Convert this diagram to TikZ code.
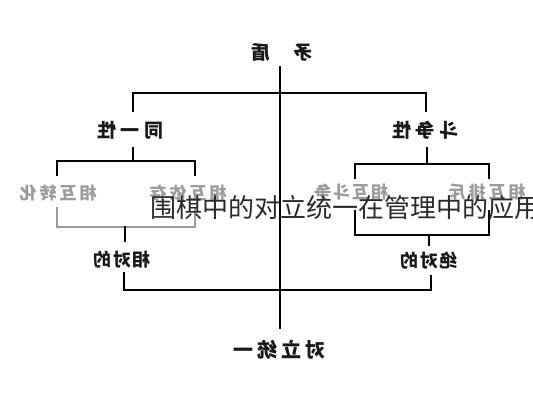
\documentclass[tikz,border=0pt]{standalone}
\usepackage{graphicx}
\usepackage{fontspec}
\usepackage{tikz}
\usetikzlibrary{positioning}
\newfontfamily\cjk{Noto Sans CJK SC}
\definecolor{lightgray}{HTML}{9C9C9C}
\definecolor{titlegray}{HTML}{2A2A2A}
\tikzset{
  bar/.style={line width=1.8pt, color=black, line cap=rect},
  graybar/.style={line width=1.8pt, color=lightgray, line cap=rect},
  lbl/.style={inner sep=0pt, font=\cjk\bfseries\fontsize{19}{19}\selectfont, text=black!90},
  smalllbl/.style={inner sep=0pt, font=\cjk\bfseries\fontsize{18}{18}\selectfont, text=black!90},
  graylbl/.style={inner sep=0pt, font=\cjk\bfseries\fontsize{17}{17}\selectfont, text=lightgray}
}
\newcommand{\mirror}[1]{\reflectbox{#1}}
\begin{document}
\begin{tikzpicture}[x=1pt,y=-1pt, line join=miter]
    \useasboundingbox (0,0) rectangle (533,400);
    % labels (mirrored)
    \node[lbl] (maodun) at (282,52) {\mirror{矛\hspace{23pt}盾}};
    \node[lbl] (tongyi) at (130,130) {\mirror{同\hspace{4.5pt}一\hspace{4.5pt}性}};
    \node[lbl] (douzheng) at (425,130) {\mirror{斗\hspace{4.5pt}争\hspace{4.5pt}性}};
    \node[graylbl] (zhuanhua) at (58,193) {\mirror{相\hspace{3pt}互\hspace{3pt}转\hspace{3pt}化}};
    \node[graylbl] (yicun) at (188,193) {\mirror{相\hspace{3pt}互\hspace{3pt}依\hspace{3pt}存}};
    \node[graylbl] (huxiang) at (351,192) {\mirror{相\hspace{2pt}互\hspace{2pt}斗\hspace{2pt}争}};
    \node[graylbl] (paichi) at (487,192) {\mirror{相\hspace{3pt}互\hspace{3pt}排\hspace{3pt}斥}};
    \node[smalllbl] (xiangdui) at (122,260) {\mirror{相\hspace{1.5pt}对\hspace{1.5pt}的}};
    \node[smalllbl] (juedui) at (429,261) {\mirror{绝\hspace{1.5pt}对\hspace{1.5pt}的}};
    \node[lbl, font=\cjk\bfseries\fontsize{20}{20}\selectfont] (duili) at (279,350) {\mirror{对\hspace{4pt}立\hspace{4pt}统\hspace{4pt}一}};
    % junctions
    \coordinate (top) at (280,67);
    \coordinate (bot) at (280,328);
    % central axis
    \draw[bar] (top) -- (bot);
    % top bracket
    \draw[bar] (133,111) -- (133,93) -- (426,93) -- (426,111);
    % left upper and lower brackets
    \draw[bar] (133,148) -- (133,161);
    \draw[bar] (57,175) -- (57,161) -- (195,161) -- (195,175);
    \draw[graybar] (57,208) -- (57,227) -- (195,227) -- (195,208);
    \draw[bar] (125,227) -- (125,241);
    % right upper and lower brackets
    \draw[bar] (427,148) -- (427,164);
    \draw[bar] (355,178) -- (355,164) -- (489,164) -- (489,178);
    \draw[bar] (355,211) -- (355,235) -- (489,235) -- (489,211);
    \draw[bar] (429,235) -- (429,245);
    % bottom bracket
    \draw[bar] (124,273) -- (124,290) -- (431,290) -- (431,276);
    % title overlay
    \node[anchor=west, inner sep=0pt, text=titlegray, font=\cjk\fontsize{26}{26}\selectfont] (title) at (150,208) {围棋中的对立统一在管理中的应用};
\end{tikzpicture}
\end{document}
